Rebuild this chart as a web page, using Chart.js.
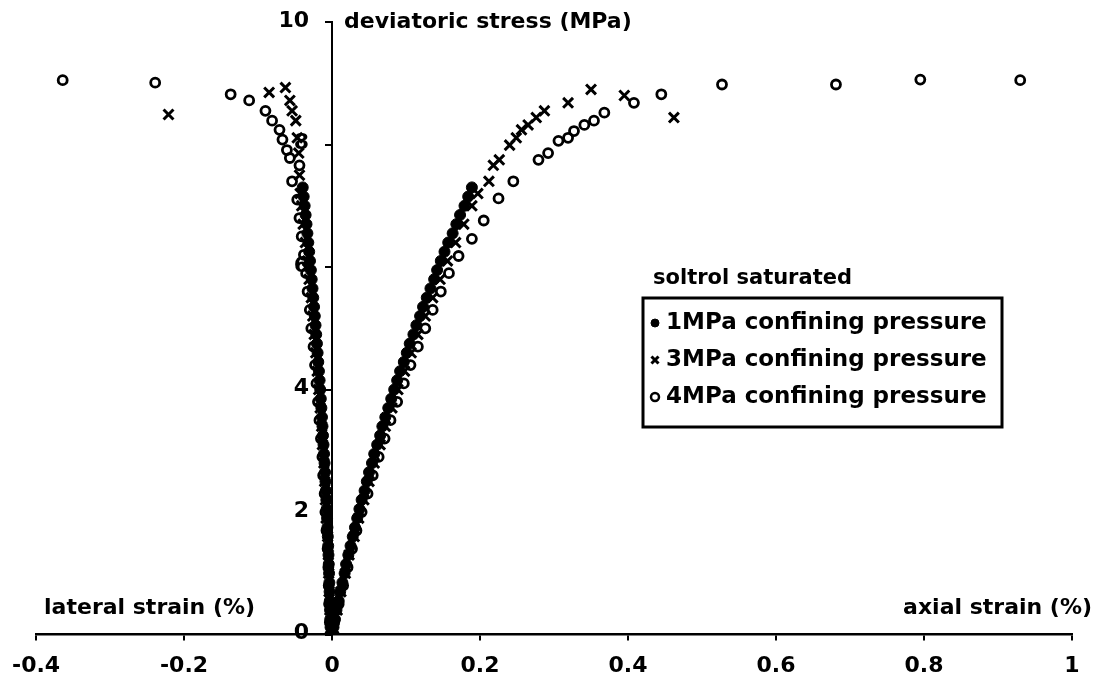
<!DOCTYPE html>
<html>
<head>
<meta charset="utf-8">
<script src="https://cdn.jsdelivr.net/npm/chart.js"></script>
<style>
  html, body { margin: 0; padding: 0; background: #fff; }
</style>
</head>
<body>
<canvas id="stressStrain" width="1099" height="691"></canvas>
<script>
// 1MPa confining pressure (filled dots) - same stress levels on both branches
const stress1 = [0,0.12,0.25,0.4,0.55,0.7,0.85,1.0,1.15,1.3,1.45,1.6,1.75,1.9,2.05,2.2,2.35,2.5,2.65,2.8,2.95,3.1,3.25,3.4,3.55,3.7,3.85,4.0,4.15,4.3,4.45,4.6,4.75,4.9,5.05,5.2,5.35,5.5,5.65,5.8,5.95,6.1,6.25,6.4,6.55,6.7,6.85,7.0,7.15,7.3];
const axial1 = [0,0.002,0.004,0.006,0.009,0.011,0.014,0.017,0.019,0.022,0.025,0.028,0.031,0.034,0.037,0.040,0.044,0.047,0.050,0.054,0.057,0.061,0.065,0.068,0.072,0.076,0.080,0.084,0.088,0.092,0.097,0.101,0.105,0.110,0.114,0.119,0.123,0.128,0.133,0.138,0.142,0.147,0.152,0.157,0.163,0.168,0.173,0.179,0.184,0.189];
const lateral1 = [0,-0.002,-0.0024,-0.0027,-0.003,-0.0033,-0.0036,-0.004,-0.0044,-0.0048,-0.0052,-0.0057,-0.0062,-0.0067,-0.0072,-0.0077,-0.0083,-0.0089,-0.0095,-0.0101,-0.0108,-0.0115,-0.0122,-0.0129,-0.0136,-0.0144,-0.0152,-0.016,-0.0168,-0.0177,-0.0186,-0.0195,-0.0204,-0.0214,-0.0223,-0.0233,-0.0243,-0.0254,-0.0264,-0.0275,-0.0286,-0.0298,-0.0309,-0.0321,-0.0333,-0.0345,-0.0357,-0.037,-0.0383,-0.0396];

// 3MPa confining pressure (crosses)
const axialStress2 = [0.1,0.4,0.7,1.0,1.3,1.6,1.9,2.2,2.5,2.8,3.1,3.4,3.7,4.0,4.3,4.6,4.9,5.2,5.5,5.8,6.1,6.4,6.7,7.0,7.2,7.40,7.66,7.75,7.99,8.11,8.24,8.32,8.44,8.55,8.68,8.90,8.80,8.44];
const axialStrain2 = [0.002,0.007,0.012,0.018,0.023,0.030,0.036,0.043,0.050,0.057,0.065,0.072,0.081,0.089,0.098,0.107,0.116,0.126,0.136,0.146,0.156,0.167,0.178,0.189,0.197,0.212,0.218,0.226,0.240,0.249,0.256,0.265,0.276,0.287,0.319,0.350,0.395,0.462];
const lateralStress2 = [0.1,0.4,0.7,1.0,1.3,1.6,1.9,2.2,2.5,2.8,3.1,3.4,3.7,4.0,4.3,4.6,4.9,5.2,5.5,5.8,6.1,6.4,6.7,7.0,7.2,7.5,7.86,8.11,8.39,8.55,8.72,8.93,8.85,8.49];
const lateralStrain2 = [-0.002,-0.003,-0.004,-0.0045,-0.005,-0.006,-0.008,-0.009,-0.010,-0.011,-0.013,-0.014,-0.016,-0.018,-0.020,-0.022,-0.024,-0.026,-0.028,-0.031,-0.033,-0.036,-0.039,-0.041,-0.043,-0.044,-0.045,-0.047,-0.049,-0.054,-0.057,-0.063,-0.085,-0.221];

// 4MPa confining pressure (open circles)
const axialStress3 = [0.2,0.5,0.8,1.1,1.4,1.7,2.0,2.3,2.6,2.9,3.2,3.5,3.8,4.1,4.4,4.7,5.0,5.3,5.6,5.9,6.18,6.46,6.76,7.12,7.40,7.75,7.86,8.06,8.11,8.22,8.32,8.39,8.52,8.68,8.82,8.98,8.98,9.06,9.05];
const axialStrain3 = [0.003,0.009,0.015,0.021,0.027,0.033,0.040,0.048,0.055,0.063,0.071,0.079,0.088,0.097,0.106,0.116,0.126,0.136,0.147,0.158,0.171,0.189,0.205,0.225,0.245,0.279,0.292,0.306,0.319,0.327,0.341,0.354,0.368,0.408,0.445,0.527,0.681,0.795,0.930];
const lateralStress3 = [0.2,0.5,0.8,1.1,1.4,1.7,2.0,2.3,2.6,2.9,3.2,3.5,3.8,4.1,4.4,4.7,5.0,5.3,5.6,5.9,6.2,6.5,6.8,7.1,7.40,7.66,7.78,7.91,8.08,8.24,8.39,8.55,8.72,8.82,9.01,9.05];
const lateralStrain3 = [-0.003,-0.004,-0.0045,-0.005,-0.006,-0.0075,-0.009,-0.010,-0.012,-0.013,-0.015,-0.017,-0.019,-0.021,-0.023,-0.025,-0.028,-0.030,-0.033,-0.035,-0.038,-0.041,-0.044,-0.047,-0.054,-0.044,-0.057,-0.061,-0.067,-0.071,-0.081,-0.090,-0.112,-0.137,-0.239,-0.364];

const seriesLabels = ['1MPa confining pressure', '3MPa confining pressure', '4MPa confining pressure'];
const legendTitle = 'soltrol saturated';
const yTitle = 'deviatoric stress (MPa)';
const lateralTitle = 'lateral strain (%)';
const axialTitle = 'axial strain (%)';

function toPoints(strain, stress) {
  return strain.map((v, i) => ({ x: v, y: stress[i] }));
}

const FONT = '"DejaVu Sans", "Liberation Sans", sans-serif';

// y tick labels sit left of the axis, under the points
const yLabelsPlugin = {
  id: 'yLabelsPlugin',
  beforeDatasetsDraw(chart) {
    const { ctx, scales: { x, y } } = chart;
    ctx.save();
    ctx.fillStyle = '#000';
    ctx.font = 'bold 22px ' + FONT;
    ctx.textAlign = 'right';
    ctx.textBaseline = 'middle';
    y.ticks.forEach(t => {
      ctx.fillText(String(t.value), x.getPixelForValue(0) - 23, y.getPixelForValue(t.value) - 1);
    });
    ctx.restore();
  }
};

// axis titles + boxed legend drawn on top of the plot
const labelsPlugin = {
  id: 'labelsPlugin',
  afterDatasetsDraw(chart) {
    const { ctx, scales: { x, y } } = chart;
    ctx.save();
    ctx.fillStyle = '#000';
    ctx.textBaseline = 'middle';
    ctx.font = 'bold 22px ' + FONT;
    ctx.textAlign = 'left';
    ctx.fillText(yTitle, x.getPixelForValue(0) + 12, y.getPixelForValue(10));
    ctx.fillText(lateralTitle, x.left + 8, y.getPixelForValue(0) - 26);
    ctx.textAlign = 'right';
    ctx.fillText(axialTitle, x.right + 20, y.getPixelForValue(0) - 26);

    // legend
    const bx = 643, by = 298, bw = 359, bh = 129;
    ctx.textAlign = 'left';
    ctx.font = 'bold 21px ' + FONT;
    ctx.fillText(legendTitle, bx + 10, by - 19);
    ctx.lineWidth = 3;
    ctx.strokeStyle = '#000';
    ctx.strokeRect(bx, by, bw, bh);
    ctx.font = 'bold 23px ' + FONT;
    chart.data.datasets.forEach((ds, i) => {
      const cy = by + 25 + i * 37;
      ctx.fillStyle = i === 2 ? '#fff' : '#000';
      ctx.lineWidth = i === 2 ? 2.5 : ds.borderWidth;
      Chart.helpers.drawPoint(ctx, {
        pointStyle: ds.pointStyle,
        radius: i === 1 ? 5 : 4,
        borderWidth: i === 2 ? 2.5 : ds.borderWidth,
        rotation: 0
      }, bx + 12, cy);
      ctx.fillStyle = '#000';
      ctx.fillText(ds.label, bx + 23, cy);
    });
    ctx.restore();
  }
};

const chart = new Chart(document.getElementById('stressStrain').getContext('2d'), {
  type: 'scatter',
  data: {
    datasets: [
      {
        label: seriesLabels[0],
        data: toPoints(axial1, stress1).concat(toPoints(lateral1, stress1)),
        pointStyle: 'circle',
        pointRadius: 5.5,
        backgroundColor: '#000',
        borderColor: '#000',
        borderWidth: 1
      },
      {
        label: seriesLabels[1],
        data: toPoints(axialStrain2, axialStress2).concat(toPoints(lateralStrain2, lateralStress2)),
        pointStyle: 'crossRot',
        pointRadius: 7,
        backgroundColor: '#000',
        borderColor: '#000',
        borderWidth: 3
      },
      {
        label: seriesLabels[2],
        data: toPoints(axialStrain3, axialStress3).concat(toPoints(lateralStrain3, lateralStress3)),
        pointStyle: 'circle',
        pointRadius: 4.5,
        backgroundColor: 'rgba(0,0,0,0)',
        borderColor: '#000',
        borderWidth: 2.8
      }
    ]
  },
  options: {
    responsive: false,
    devicePixelRatio: 1,
    animation: false,
    layout: { padding: { left: 33, right: 27, top: 22, bottom: 0 } },
    plugins: {
      legend: { display: false },
      tooltip: { enabled: false }
    },
    scales: {
      x: {
        type: 'linear',
        position: 'bottom',
        min: -0.4,
        max: 1,
        border: { display: true, color: '#000', width: 2.5 },
        grid: { display: true, drawOnChartArea: false, drawTicks: true, tickLength: 6, color: '#000', lineWidth: 2 },
        ticks: {
          stepSize: 0.2,
          padding: 12,
          color: '#000',
          font: { family: FONT, size: 22, weight: 'bold' },
          callback: v => String(+v.toFixed(1))
        }
      },
      y: {
        type: 'linear',
        position: { x: 0 },
        min: 0,
        max: 10,
        border: { display: true, color: '#000', width: 2 },
        grid: { display: true, drawOnChartArea: false, drawTicks: true, tickLength: 6, color: '#000', lineWidth: 2 },
        ticks: {
          display: false,
          stepSize: 2
        }
      }
    }
  },
  plugins: [yLabelsPlugin, labelsPlugin]
});
</script>
</body>
</html>
